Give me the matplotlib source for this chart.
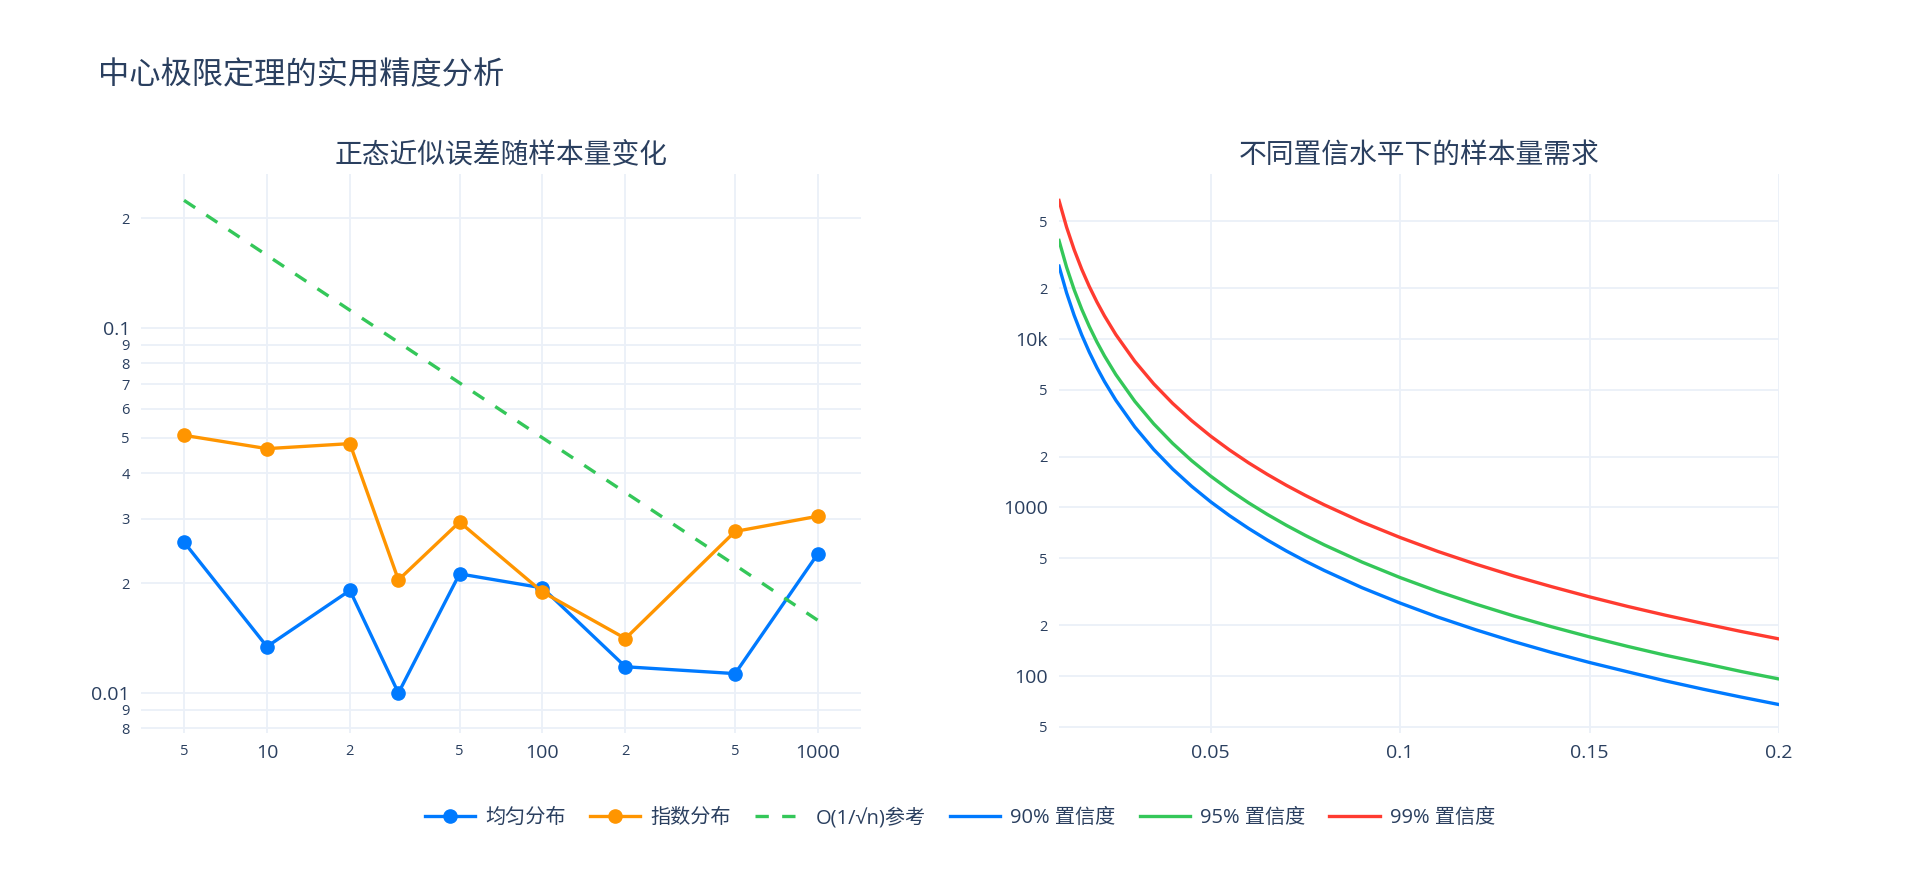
import numpy as np
import matplotlib.pyplot as plt
from matplotlib.ticker import FixedLocator, NullLocator

plt.rcParams['font.family'] = ['Open Sans', 'Noto Sans CJK SC', 'DejaVu Sans']

TXT = '#2a3f5f'
GRID = '#ebf0f8'
BLUE = '#007aff'
ORANGE = '#ff9500'
GREEN = '#34c759'
RED = '#ff3b30'

# left panel: approximation error vs sample size
sample_sizes = [5, 10, 20, 30, 50, 100, 200, 500, 1000]
err_uniform = [0.0259, 0.0134, 0.0191, 0.0100, 0.0212, 0.0194, 0.0118, 0.0113, 0.0241]
err_expon = [0.0508, 0.0467, 0.0482, 0.0204, 0.0294, 0.0189, 0.0141, 0.0277, 0.0305]
ref_line = [0.2236, 0.1581, 0.1118, 0.0913, 0.0707, 0.0500, 0.0354, 0.0224, 0.0158]

# right panel: required sample size vs margin of error
margins = [0.01, 0.012, 0.014, 0.016, 0.018, 0.02, 0.022, 0.025, 0.03, 0.035, 0.04,
           0.045, 0.05, 0.055, 0.06, 0.065, 0.07, 0.075, 0.08, 0.09, 0.1, 0.11, 0.12,
           0.13, 0.14, 0.15, 0.16, 0.17, 0.18, 0.19, 0.2]
n_90 = [27060, 18790, 13810, 10570, 8352, 6765, 5591, 4330, 3007, 2209, 1691,
        1336, 1082, 894.6, 752, 640.5, 552, 481.1, 423, 334, 271, 223.6, 188,
        160.1, 138, 120.3, 106, 93.6, 83.5, 75.0, 67.7]
n_95 = [38420, 26680, 19600, 15010, 11860, 9604, 7937, 6147, 4268, 3136, 2401,
        1897, 1537, 1270, 1067, 909.3, 784, 683, 600, 474, 384, 317.5, 267,
        227.3, 196, 170.7, 150, 132.9, 119, 106.4, 96.0]
n_99 = [66360, 46080, 33860, 25920, 20480, 16590, 13710, 10620, 7373, 5417, 4147,
        3277, 2654, 2194, 1843, 1571, 1354, 1180, 1037, 819, 664, 548.4, 461,
        392.6, 339, 294.9, 259, 229.6, 205, 183.8, 166]

fig = plt.figure(figsize=(19.2, 8.72), dpi=100)
W, H = 1920, 872


def ax_box(x0, x1, y0, y1):
    return [x0 / W, 1 - y1 / H, (x1 - x0) / W, (y1 - y0) / H]


def style(ax, xt, xl, yt, yl, big):
    for s in ax.spines.values():
        s.set_visible(False)
    ax.xaxis.set_major_locator(FixedLocator(xt))
    ax.yaxis.set_major_locator(FixedLocator(yt))
    ax.xaxis.set_minor_locator(NullLocator())
    ax.yaxis.set_minor_locator(NullLocator())
    ax.set_xticklabels(xl)
    ax.set_yticklabels(yl)
    ax.tick_params(length=0, colors=TXT, pad=8)
    for lab in ax.get_xticklabels() + ax.get_yticklabels():
        lab.set_fontsize(14 if lab.get_text() in big else 10.5)
    ax.grid(True, color=GRID, linewidth=1.3)
    ax.set_axisbelow(True)


# left
ax1 = fig.add_axes(ax_box(141, 861, 174, 733))
ax1.set_xscale('log')
ax1.set_yscale('log')
ax1.plot(sample_sizes, err_uniform, color=BLUE, lw=2.4, marker='o', ms=9.5, label='均匀分布')
ax1.plot(sample_sizes, err_expon, color=ORANGE, lw=2.4, marker='o', ms=9.5, label='指数分布')
ax1.plot(sample_sizes, ref_line, color=GREEN, lw=2.4, ls=(0, (4, 4)), label='O(1/√n)参考')
ax1.set_xlim(3.49, 1432)
ax1.set_ylim(0.00777, 0.264)
style(ax1, [5, 10, 20, 50, 100, 200, 500, 1000],
      ['5', '10', '2', '5', '100', '2', '5', '1000'],
      [0.008, 0.009, 0.01, 0.02, 0.03, 0.04, 0.05, 0.06, 0.07, 0.08, 0.09, 0.1, 0.2],
      ['8', '9', '0.01', '2', '3', '4', '5', '6', '7', '8', '9', '0.1', '2'],
      {'10', '100', '1000', '0.01', '0.1'})
ax1.set_title('正态近似误差随样本量变化', fontsize=20, color=TXT, pad=8)

# right
ax2 = fig.add_axes(ax_box(1059, 1779, 174, 733))
ax2.set_yscale('log')
ax2.plot(margins, n_90, color=BLUE, lw=2.4, label='90% 置信度')
ax2.plot(margins, n_95, color=GREEN, lw=2.4, label='95% 置信度')
ax2.plot(margins, n_99, color=RED, lw=2.4, label='99% 置信度')
ax2.set_xlim(0.01, 0.2)
ax2.set_ylim(45.9, 95300)
style(ax2, [0.05, 0.1, 0.15, 0.2], ['0.05', '0.1', '0.15', '0.2'],
      [50, 100, 200, 500, 1000, 2000, 5000, 10000, 20000, 50000],
      ['5', '100', '2', '5', '1000', '2', '5', '10k', '2', '5'],
      {'0.05', '0.1', '0.15', '0.2', '100', '1000', '10k'})
ax2.set_title('不同置信水平下的样本量需求', fontsize=20, color=TXT, pad=8)

fig.text(98 / W, 1 - 76 / H, '中心极限定理的实用精度分析', fontsize=22.5, color=TXT,
         ha='left', va='center')

handles = ax1.get_lines() + ax2.get_lines()
labels = [h.get_label() for h in handles]
fig.legend(handles, labels, loc='center', bbox_to_anchor=(0.5, 1 - 818 / H), ncol=6,
           frameon=False, fontsize=14.5, labelcolor=TXT, handlelength=2.5,
           columnspacing=1.2, handletextpad=0.5)

fig.savefig('out.png', dpi=100, facecolor='white')
